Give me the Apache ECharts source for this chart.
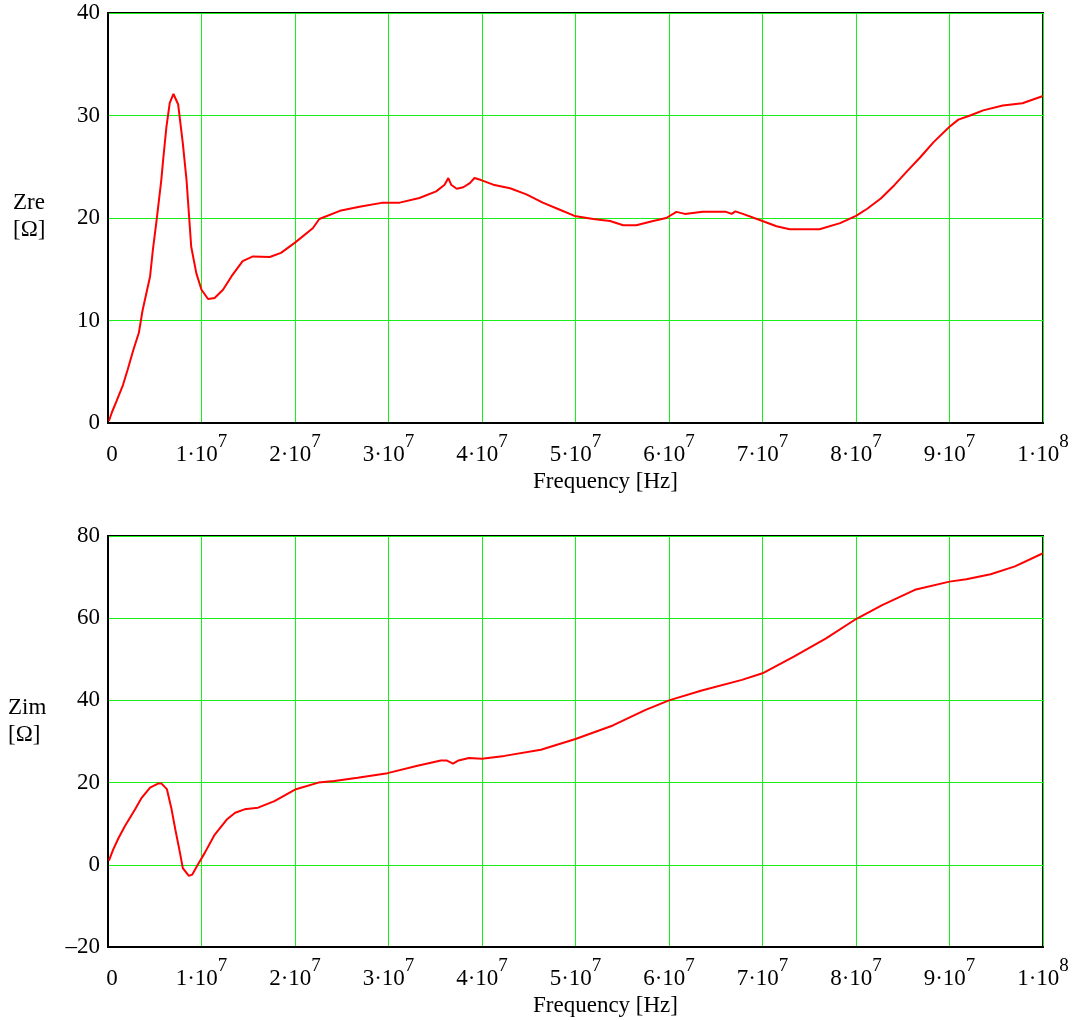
<!DOCTYPE html>
<html>
<head>
<meta charset="utf-8">
<script src="https://cdn.jsdelivr.net/npm/echarts@6/dist/echarts.min.js"></script>
<style>
html,body{margin:0;padding:0;background:#fff;}
#chart{width:1072px;height:1020px;}
</style>
</head>
<body>
<div id="chart"></div>
<script>
// Frequency in units of 1e6 Hz (MHz)
const zreFreq = [0.1,0.4,0.9,1.6,2.1,2.7,3.3,3.7,4.5,4.8,5.2,5.7,5.9,6.25,6.6,7.0,7.5,8.0,8.4,8.7,8.9,9.45,10.0,10.7,11.4,12.3,13.2,14.4,15.5,17.3,18.5,20.0,21.9,22.6,24.8,26.9,29.4,31.2,33.3,35.1,36.0,36.4,36.7,37.3,38.0,38.7,39.2,39.9,41.2,43.0,44.75,46.5,48.2,49.9,51.9,53.7,55.1,56.5,58.3,59.7,60.8,61.7,63.6,66.1,66.7,67.1,67.9,69.7,71.5,72.9,76.1,78.3,80.0,81.2,82.65,84.1,85.5,86.9,88.3,90.0,90.95,92.2,93.6,95.7,97.8,100];
const zreVal  = [0.2,1.0,2.1,3.7,5.2,7.1,8.8,11.0,14.3,16.9,19.8,23.7,25.7,28.9,31.2,32.1,31.1,27.3,23.7,19.8,17.2,14.6,13.0,12.1,12.2,13.0,14.3,15.8,16.25,16.2,16.6,17.6,19.0,19.9,20.7,21.1,21.5,21.5,21.95,22.6,23.25,23.9,23.25,22.85,23.0,23.4,23.9,23.7,23.25,22.9,22.3,21.5,20.85,20.2,19.9,19.7,19.3,19.3,19.7,20.0,20.6,20.4,20.6,20.6,20.4,20.65,20.4,19.8,19.2,18.9,18.9,19.5,20.2,20.9,21.9,23.2,24.6,25.95,27.4,28.9,29.6,30.0,30.5,30.97,31.2,31.9];

const zimFreq = [0.1,0.3,0.55,1.1,1.8,2.9,3.6,4.5,5.4,5.7,6.3,6.8,7.2,7.7,8.0,8.65,9.0,9.6,10.35,11.4,12.7,13.6,14.6,16.05,17.8,20.1,22.5,24.2,26.7,29.9,33.1,35.6,36.2,36.9,37.5,38.6,40,42.4,46.3,50,54.0,57.5,60,63.5,67.8,70,73.4,76.8,80,82.8,86.3,90,91.8,94.4,97.0,100];
const zimVal  = [1.0,1.2,3.7,6.4,9.4,13.5,16.3,18.8,19.8,19.8,18.4,13.5,8.6,2.9,-0.8,-2.7,-2.4,0,2.9,7.3,11.0,12.65,13.5,13.9,15.5,18.4,20,20.4,21.2,22.3,24.1,25.4,25.4,24.6,25.4,26.0,25.8,26.5,28.0,30.6,33.9,37.7,40.0,42.4,45.0,46.6,50.7,55.1,59.8,63.2,66.9,68.9,69.5,70.7,72.6,75.8];

const FONT = 'Liberation Serif';
const GREEN = '#19f019';

function xFmt(v){
  if (v === 0) return '{z|0}';
  if (v === 100) return '{b|1·10}{s|8}';
  return '{b|' + (v/10) + '·10}{s|7}';
}

function makeX(gridIndex){
  return {
    type:'value', gridIndex, min:0, max:100, interval:10,
    name:'Frequency [Hz]', nameLocation:'middle', nameGap:59,
    nameTextStyle:{fontFamily:FONT, fontSize:23, color:'#000', verticalAlign:'middle', padding:[0,0,0,60]},
    axisLine:{show:true, onZero:false, lineStyle:{color:'#000', width:2}},
    axisTick:{show:false},
    splitLine:{show:true, lineStyle:{color:GREEN, width:1}},
    axisLabel:{
      formatter:xFmt, margin:10, color:'#000',
      rich:{
        b:{fontFamily:FONT, fontSize:23, color:'#000', lineHeight:44},
        z:{fontFamily:FONT, fontSize:23, color:'#000', lineHeight:44, padding:[0,0,0,8]},
        s:{fontFamily:FONT, fontSize:19, color:'#000', lineHeight:44, verticalAlign:'top'}
      }
    }
  };
}
function makeY(gridIndex, min, max, interval){
  return {
    type:'value', gridIndex, min, max, interval,
    axisLine:{show:true, lineStyle:{color:'#000', width:2}},
    axisTick:{show:false},
    splitLine:{show:true, lineStyle:{color:GREEN, width:1}},
    axisLabel:{
      margin:8, color:'#000', fontFamily:FONT, fontSize:23,
      formatter:v => (v < 0 ? '\u2013' + Math.abs(v) : String(v))
    }
  };
}

const chart = echarts.init(document.getElementById('chart'), null, {renderer:'canvas'});
chart.setOption({
  animation:false,
  backgroundColor:'#fff',
  grid:[
    {left:108, top:13, width:935, height:410, show:true, borderColor:'#000', borderWidth:2, backgroundColor:'transparent'},
    {left:108, top:536, width:935, height:411, show:true, borderColor:'#000', borderWidth:2, backgroundColor:'transparent'}
  ],
  xAxis:[makeX(0), makeX(1)],
  yAxis:[makeY(0,0,40,10), makeY(1,-20,80,20)],
  graphic:[
    {type:'text', left:13, top:189, style:{text:'Zre\n[Ω]', font:'23px "Liberation Serif"', fill:'#000', lineHeight:27}},
    {type:'text', left:8, top:694, style:{text:'Zim\n[Ω]', font:'23px "Liberation Serif"', fill:'#000', lineHeight:27}}
  ],
  series:[
    {type:'line', xAxisIndex:0, yAxisIndex:0, showSymbol:false, data:zreFreq.map((f,i)=>[f,zreVal[i]]),
      lineStyle:{color:'#ff0000', width:2}, z:5},
    {type:'line', xAxisIndex:1, yAxisIndex:1, showSymbol:false, data:zimFreq.map((f,i)=>[f,zimVal[i]]),
      lineStyle:{color:'#ff0000', width:2}, z:5}
  ]
});
</script>
</body>
</html>
